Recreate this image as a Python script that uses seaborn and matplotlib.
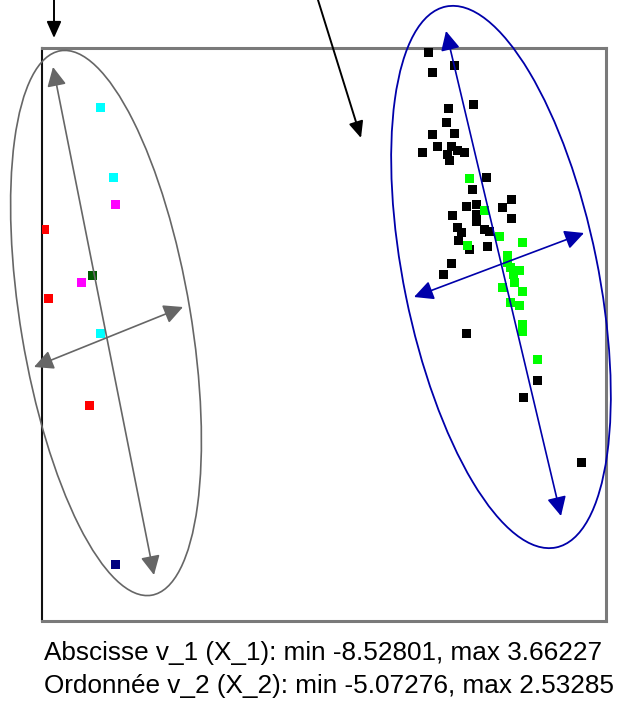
import matplotlib
matplotlib.use("Agg")
import matplotlib.pyplot as plt
from matplotlib.patches import Ellipse
import seaborn as sns
import pandas as pd

# ranges printed under the chart
x_min, x_max = -8.52801, 3.66227
y_min, y_max = -5.07276, 2.53285

# points per class, (v_1, v_2)
cyan_x = [-7.259, -6.942, -7.259]
cyan_y = [1.729, 0.687, -1.649]

magenta_x = [-6.897, -7.667]
magenta_y = [0.271, -0.890]

red_x = [-8.528, -8.415, -7.486]
red_y = [-0.087, -1.114, -2.721]

darkgreen_x = [-7.440]
darkgreen_y = [-0.786]

navy_x = [-6.897]
navy_y = [-5.073]

black_x = [0.195, 0.286, 0.762, 0.648, 1.215, 0.603, 0.762, 0.286, 0.059, 0.399,
           0.716, 1.011, 0.671, 0.852, 0.625, 1.509, 1.170, 1.034, 1.283, 1.283,
           1.283, 2.076, 1.872, 2.076, 0.739, 0.830, 0.943, 0.875, 1.464, 1.577,
           1.532, 1.124, 0.716, 0.535, 1.056, 2.665, 2.348, 3.662]
black_y = [2.533, 2.250, 2.340, 1.714, 1.759, 1.491, 1.342, 1.313, 1.045, 1.134,
           1.134, 1.045, 0.940, 1.089, 1.015, 0.687, 0.494, 0.241, 0.271, 0.122,
           0.018, 0.345, 0.226, 0.077, 0.107, -0.057, -0.146, -0.265, -0.101, -0.131,
           -0.340, -0.399, -0.593, -0.771, -1.635, -2.349, -2.602, -3.569]

green_x = [1.124, 1.464, 1.079, 1.804, 2.303, 1.963, 1.963, 2.031, 2.257, 2.099,
           1.872, 2.144, 2.325, 2.031, 2.257, 2.325, 2.303, 2.665]
green_y = [0.658, 0.196, -0.325, -0.191, -0.295, -0.474, -0.578, -0.667, -0.697, -0.771,
           -0.950, -0.890, -1.024, -1.188, -1.218, -1.515, -1.605, -2.036]

classes = {
    "cyan": (cyan_x, cyan_y, "#00FFFF"),
    "magenta": (magenta_x, magenta_y, "#FF00FF"),
    "red": (red_x, red_y, "#FF0000"),
    "darkgreen": (darkgreen_x, darkgreen_y, "#005A00"),
    "navy": (navy_x, navy_y, "#000080"),
    "black": (black_x, black_y, "#000000"),
    "green": (green_x, green_y, "#00FF00"),
}

rows = []
for name, (xs, ys, col) in classes.items():
    for a, b in zip(xs, ys):
        rows.append({"v_1": a, "v_2": b, "cls": name})
df = pd.DataFrame(rows)
palette = {name: v[2] for name, v in classes.items()}

sns.set_style("white")

W, H = 628, 706
fig = plt.figure(figsize=(W / 100, H / 100), dpi=100)
fig.patch.set_facecolor("white")

# plot box in pixels: left 42, right 606, top 48, bottom 621
ax = fig.add_axes([42 / W, (H - 621) / H, 564 / W, 573 / H])
sns.scatterplot(data=df, x="v_1", y="v_2", hue="cls", palette=palette,
                marker="s", s=42, linewidth=0, legend=False, ax=ax, zorder=3)

sx = (x_max - x_min) / 538
sy = (y_max - y_min) / 511
ax.set_xlim(x_min - 2 * sx, x_min + 562 * sx)
ax.set_ylim(y_max - 568 * sy, y_max + 5 * sy)
ax.set_xticks([])
ax.set_yticks([])
ax.set_xlabel("")
ax.set_ylabel("")
for side in ["top", "right", "bottom"]:
    ax.spines[side].set_color("#7a7a7a")
    ax.spines[side].set_linewidth(2.2)
ax.spines["left"].set_color("#111111")
ax.spines["left"].set_linewidth(1.5)

# overlay for hand-drawn annotations (pixel coordinates)
ov = fig.add_axes([0, 0, 1, 1], zorder=5)
ov.set_xlim(0, W)
ov.set_ylim(H, 0)
ov.axis("off")

gray = "#666666"
blue = "#0000AA"

ov.add_patch(Ellipse((106, 323), 170, 552, angle=-9.5, fill=False,
                     edgecolor=gray, lw=1.2))
ov.add_patch(Ellipse((501, 277), 194, 552, angle=-11.5, fill=False,
                     edgecolor=blue, lw=1.3))

def double_arrow(p0, p1, color):
    ov.annotate("", xy=p1, xytext=p0,
                arrowprops=dict(arrowstyle="<|-|>,head_length=0.9,head_width=0.45",
                                color=color, lw=1.2, shrinkA=0, shrinkB=0,
                                mutation_scale=13))

double_arrow((154, 575), (53, 67), gray)
double_arrow((34, 367), (183, 307), gray)
double_arrow((561, 516), (446, 31), blue)
double_arrow((414, 297), (584, 233), blue)

for p0, p1 in [((54, 0), (54, 38)), ((318, 0), (361, 138))]:
    ov.annotate("", xy=p1, xytext=p0,
                arrowprops=dict(arrowstyle="-|>,head_length=0.9,head_width=0.4",
                                color="black", lw=1.4, shrinkA=0, shrinkB=0,
                                mutation_scale=11))

fam = ["Liberation Sans", "DejaVu Sans"]
fig.text(44 / W, 1 - 653 / H,
         f"Abscisse v_1 (X_1): min {x_min:.5f}, max {x_max:.5f}",
         ha="left", va="center", fontsize=18.8, family=fam, color="black")
fig.text(44 / W, 1 - 686 / H,
         f"Ordonnée v_2 (X_2): min {y_min:.5f}, max {y_max:.5f}",
         ha="left", va="center", fontsize=18.8, family=fam, color="black")

fig.savefig("out.png", dpi=100, facecolor="white")
